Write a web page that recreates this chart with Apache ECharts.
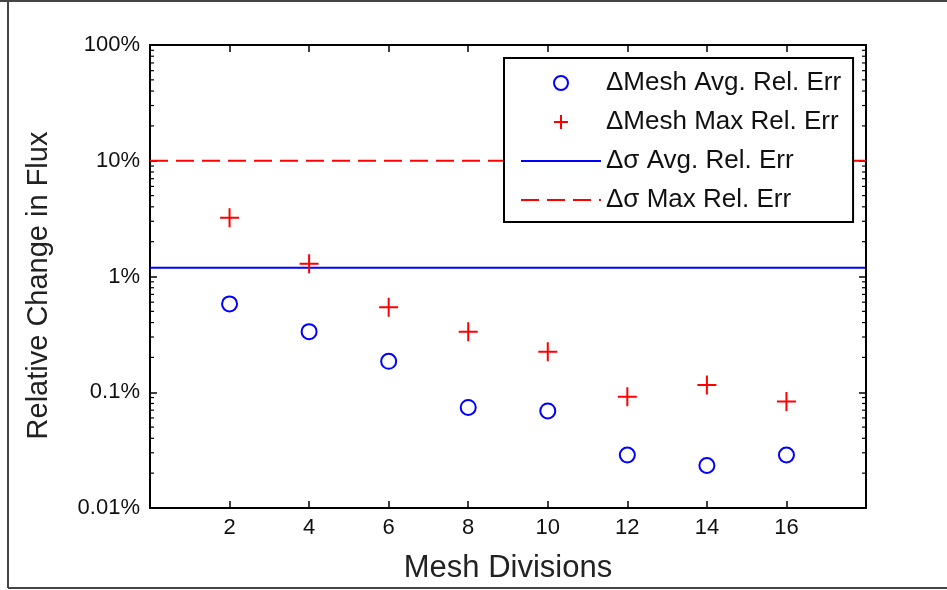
<!DOCTYPE html>
<html>
<head>
<meta charset="utf-8">
<script src="https://cdn.jsdelivr.net/npm/echarts@6/dist/echarts.min.js"></script>
<style>
html,body{margin:0;padding:0;background:#fff;}
#chart{width:947px;height:590px;}
</style>
</head>
<body>
<div id="chart"></div>
<script>
// ---- data (values in percent) ----
var meshDivisions = [2, 4, 6, 8, 10, 12, 14, 16];
var meshAvgRelErr = [0.58, 0.334, 0.185, 0.074, 0.069, 0.0287, 0.0233, 0.0287];
var meshMaxRelErr = [3.22, 1.29, 0.542, 0.334, 0.224, 0.0916, 0.1156, 0.0834];
var sigmaAvgRelErr = 1.19;
var sigmaMaxRelErr = 10;
var xRange = [0, 18];
var yRange = [0.01, 100];
var xTickLabels = ['2', '4', '6', '8', '10', '12', '14', '16'];
var yTickLabels = ['0.01%', '0.1%', '1%', '10%', '100%'];
var seriesNames = ['\u0394Mesh Avg. Rel. Err', '\u0394Mesh Max Rel. Err', '\u0394\u03c3 Avg. Rel. Err', '\u0394\u03c3 Max Rel. Err'];

// minor tick values on the log axis (2..9 x each decade)
var minorTicks = [];
[0.01, 0.1, 1, 10].forEach(function (d) {
  for (var m = 2; m <= 9; m++) minorTicks.push(+(m * d).toPrecision(3));
});

function pairs(xs, ys) { return xs.map(function (x, i) { return [x, ys[i]]; }); }

var FONT = '"Liberation Sans", Arial, Helvetica, sans-serif';
var chart = echarts.init(document.getElementById('chart'), null, { renderer: 'canvas' });

function yLabel(v) {
  var idx = Math.round(Math.log10(v) - Math.log10(yRange[0]));
  return yTickLabels[idx] !== undefined ? yTickLabels[idx] : '';
}
function xLabel(v) {
  var i = meshDivisions.indexOf(Math.round(v));
  return i >= 0 ? xTickLabels[i] : '';
}

var axisLineStyle = { show: true, onZero: false, lineStyle: { color: '#000', width: 2 } };

var option = {
  backgroundColor: '#fff',
  animation: false,
  textStyle: { fontFamily: FONT },
  grid: { left: 150, right: 81, top: 45, bottom: 82, containLabel: false },
  graphic: [
    { type: 'line', shape: { x1: 0, y1: 1, x2: 947, y2: 1 }, style: { stroke: '#444', lineWidth: 2 } },
    { type: 'line', shape: { x1: 8, y1: 0, x2: 8, y2: 588 }, style: { stroke: '#444', lineWidth: 2 } },
    { type: 'line', shape: { x1: 8, y1: 588, x2: 947, y2: 588 }, style: { stroke: '#444', lineWidth: 2 } }
  ],
  legend: {
    data: [
      { name: seriesNames[0] },
      { name: seriesNames[1] },
      { name: seriesNames[2], itemStyle: { opacity: 0, borderWidth: 0 } },
      { name: seriesNames[3], itemStyle: { opacity: 0, borderWidth: 0 } }
    ],
    orient: 'vertical',
    left: 504,
    top: 58,
    itemWidth: 80,
    itemHeight: 14,
    itemGap: 13,
    padding: [12, 12, 9, 16],
    borderColor: '#000',
    borderWidth: 2,
    backgroundColor: '#fff',
    selectedMode: false,
    textStyle: { fontSize: 26, color: '#111', fontFamily: FONT }
  },
  xAxis: [
    {
      type: 'value', min: xRange[0], max: xRange[1], interval: 2, position: 'bottom',
      axisLine: axisLineStyle,
      axisTick: { show: true, inside: true, length: 7, lineStyle: { color: '#000', width: 1.5 } },
      axisLabel: { show: true, formatter: xLabel, fontSize: 22, color: '#111', margin: 9, fontFamily: FONT },
      splitLine: { show: false },
      name: 'Mesh Divisions', nameLocation: 'middle', nameGap: 45,
      nameTextStyle: { fontSize: 31, color: '#222', fontFamily: FONT }
    },
    {
      type: 'value', min: xRange[0], max: xRange[1], interval: 2, position: 'top',
      axisLine: axisLineStyle,
      axisTick: { show: true, inside: true, length: 7, lineStyle: { color: '#000', width: 1.5 } },
      axisLabel: { show: false },
      splitLine: { show: false }
    }
  ],
  yAxis: [
    {
      type: 'log', logBase: 10, min: yRange[0], max: yRange[1], position: 'left',
      axisLine: axisLineStyle,
      axisTick: { show: true, inside: true, length: 7, lineStyle: { color: '#000', width: 1.5 } },
      axisLabel: { show: true, formatter: yLabel, fontSize: 22, color: '#111', margin: 10, fontFamily: FONT },
      splitLine: { show: false },
      name: 'Relative Change in Flux', nameLocation: 'middle', nameGap: 97, nameRotate: 90,
      nameTextStyle: { fontSize: 29, color: '#222', fontFamily: FONT, padding: [0, 18, 0, 0] }
    },
    {
      type: 'log', logBase: 10, min: yRange[0], max: yRange[1], position: 'right',
      axisLine: axisLineStyle,
      axisTick: { show: true, inside: true, length: 7, lineStyle: { color: '#000', width: 1.5 } },
      axisLabel: { show: false },
      splitLine: { show: false }
    }
  ],
  series: [
    {
      name: 'minorTicks', type: 'custom', xAxisIndex: 0, yAxisIndex: 0, silent: true, clip: false,
      data: minorTicks.map(function (v) { return [xRange[0], v]; }),
      encode: { x: 0, y: 1 },
      renderItem: function (params, api) {
        var v = api.value(1);
        var l = api.coord([xRange[0], v]);
        var r = api.coord([xRange[1], v]);
        var st = { stroke: '#000', lineWidth: 1.2 };
        return {
          type: 'group', children: [
            { type: 'line', shape: { x1: l[0], y1: l[1], x2: l[0] + 4, y2: l[1] }, style: st },
            { type: 'line', shape: { x1: r[0] - 4, y1: r[1], x2: r[0], y2: r[1] }, style: st }
          ]
        };
      }
    },
    {
      name: seriesNames[2], type: 'line', xAxisIndex: 0, yAxisIndex: 0,
      data: [[xRange[0], sigmaAvgRelErr], [xRange[1], sigmaAvgRelErr]],
      symbol: 'none', showSymbol: false,
      lineStyle: { color: '#0000ff', width: 2 },
      itemStyle: { color: '#0000ff' },
      z: 3
    },
    {
      name: seriesNames[3], type: 'line', xAxisIndex: 0, yAxisIndex: 0,
      data: [[xRange[0], sigmaMaxRelErr], [xRange[1], sigmaMaxRelErr]],
      symbol: 'none', showSymbol: false,
      lineStyle: { color: '#ff0000', width: 2, type: [18, 8] },
      itemStyle: { color: '#ff0000' },
      z: 3
    },
    {
      name: seriesNames[0], type: 'scatter', xAxisIndex: 0, yAxisIndex: 0,
      data: pairs(meshDivisions, meshAvgRelErr),
      symbol: 'circle', symbolSize: 15,
      itemStyle: { color: 'rgba(0,0,0,0)', borderColor: '#0000ff', borderWidth: 2, opacity: 1 },
      z: 4
    },
    {
      name: seriesNames[1], type: 'scatter', xAxisIndex: 0, yAxisIndex: 0,
      data: pairs(meshDivisions, meshMaxRelErr),
      symbol: 'path://M10,0L10,20M0,10L20,10', symbolSize: 19,
      itemStyle: { color: 'rgba(0,0,0,0)', borderColor: '#ff0000', borderWidth: 2, opacity: 1 },
      z: 4
    }
  ]
};
chart.setOption(option);
</script>
</body>
</html>
